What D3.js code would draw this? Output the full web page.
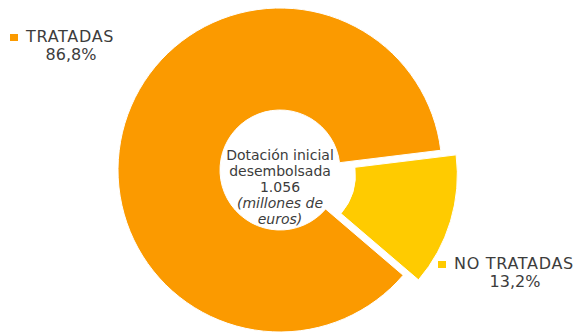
<!DOCTYPE html>
<html>
<head>
<meta charset="utf-8">
<script src="https://cdn.jsdelivr.net/npm/d3@7"></script>
<style>
  body { margin: 0; background: #fff; }
  text { font-family: "DejaVu Sans", sans-serif; fill: #3c3c3c; }
</style>
</head>
<body>
<div id="chart"></div>
<script>
// data
let categories = ['TRATADAS', 'NO TRATADAS'];
let values = [86.8, 13.2];
let valueLabels = ['86,8%', '13,2%'];
let colors = ['#fb9a00', '#ffcb00'];
let centerLines = ['Dotación inicial', 'desembolsada', '1.056', '(millones de', 'euros)'];

let width = 579,
    height = 334;

let svg = d3.select('#chart')
    .append('svg')
    .attr('width', width)
    .attr('height', height);

let cx = 280, cy = 170,
    outerR = 162, innerR = 60,
    explode = 16;

// rotate so the small slice sits on the right side
let startAngle = 83 * Math.PI / 180;
let pie = d3.pie()
    .sort(null)
    .startAngle(startAngle - 2 * Math.PI * values[0] / 100)
    .endAngle(startAngle + 2 * Math.PI * values[1] / 100);

let arc = d3.arc()
    .innerRadius(innerR)
    .outerRadius(outerR);

let arcs = pie(values);

let g = svg.append('g')
    .attr('transform', 'translate(' + cx + ',' + cy + ')');

g.selectAll('path')
    .data(arcs)
    .enter().append('path')
    .attr('d', arc)
    .attr('fill', function(d, i) { return colors[i]; })
    .attr('stroke', '#fff')
    .attr('stroke-width', 1)
    .attr('transform', function(d, i) {
        if (i === 0) return null;
        // pull the small slice out
        let mid = (d.startAngle + d.endAngle) / 2;
        return 'translate(' + (explode * Math.sin(mid)) + ',' + (-explode * Math.cos(mid)) + ')';
    });

// center text
g.selectAll('.center')
    .data(centerLines)
    .enter().append('text')
    .attr('class', 'center')
    .attr('text-anchor', 'middle')
    .attr('x', 0)
    .attr('y', function(d, i) { return -10 + i * 16; })
    .style('font-size', '14px')
    .style('font-style', function(d, i) { return i >= 3 ? 'italic' : 'normal'; })
    .text(function(d) { return d; });

// legends
let legendPos = [
    { x: 10, y: 42, cx: 71 },
    { x: 438, y: 269, cx: 515 }
];

let legend = svg.selectAll('.legend')
    .data(categories)
    .enter().append('g')
    .attr('class', 'legend');

legend.append('rect')
    .attr('x', function(d, i) { return legendPos[i].x; })
    .attr('y', function(d, i) { return legendPos[i].y - 8; })
    .attr('width', 8)
    .attr('height', 7)
    .attr('fill', function(d, i) { return colors[i]; });

legend.append('text')
    .attr('x', function(d, i) { return legendPos[i].x + 16; })
    .attr('y', function(d, i) { return legendPos[i].y; })
    .style('font-size', '16px')
    .style('letter-spacing', '0.7px')
    .text(function(d) { return d; });

legend.append('text')
    .attr('x', function(d, i) { return legendPos[i].cx; })
    .attr('y', function(d, i) { return legendPos[i].y + 18; })
    .attr('text-anchor', 'middle')
    .style('font-size', '16px')
    .text(function(d, i) { return valueLabels[i]; });
</script>
</body>
</html>
